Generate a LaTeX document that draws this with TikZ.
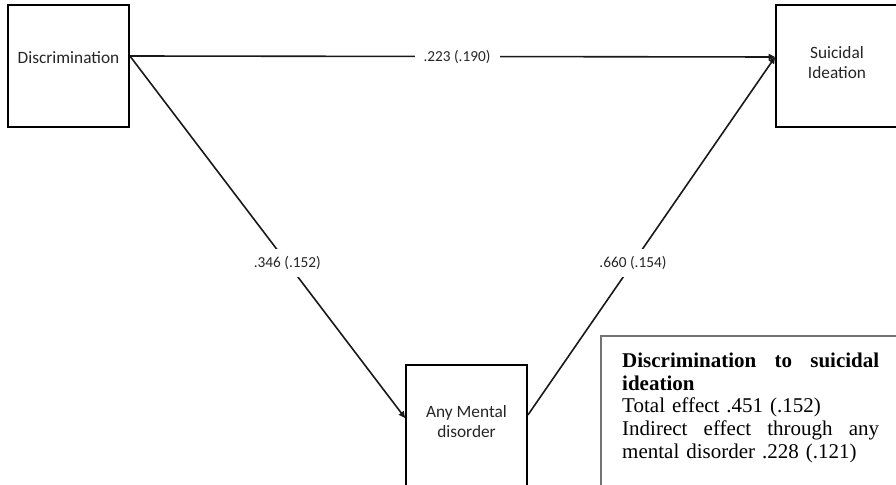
\documentclass[tikz,border=0pt]{standalone}
\usepackage{fontspec}
\setmainfont{Liberation Serif}
\newfontfamily\calfont{Carlito}
\usetikzlibrary{arrows.meta}
\begin{document}
\begin{tikzpicture}[x=1bp,y=-1bp,
  box/.style={draw=black, line width=1.8bp, minimum width=121bp, minimum height=122bp, inner sep=0pt},
  boxtext/.style={inner sep=0pt, align=center, text=black!85, font=\calfont\fontsize{17.3bp}{20bp}\selectfont},
  conn/.style={line width=1.6bp, draw=black!90, -{Triangle[length=6.5bp,width=6bp]}},
  lab/.style={fill=white, inner xsep=9bp, inner ysep=7bp, text=black!85, font=\calfont\fontsize{15.3bp}{18bp}\selectfont},
  summary/.style={anchor=north west, inner sep=0pt, text width=257bp, align=left, font=\fontsize{21bp}{22.8bp}\selectfont}]
\path[use as bounding box] (0,0) rectangle (896,485);
\clip (0,0) rectangle (896,485);
\fill[white] (0,0) rectangle (896,485);
% boxes
\node[box] (disc) at (68.5,66) {};
\node[boxtext] (disctext) at (68.5,57.5) {Discrimination};
\node[box] (sui) at (836.5,66) {};
\node[boxtext] (suitext) at (837,63) {Suicidal\\Ideation};
\node[box] (amd) at (466.5,426) {};
\node[boxtext] (amdtext) at (466.5,422) {Any Mental\\disorder};
% connectors
\draw[conn] ([yshift=10bp]disc.east) -- node[lab, pos=0.507] (l1) {.223 (.190)} ([yshift=9bp]sui.west);
\draw[conn] ([yshift=10bp]disc.east) -- node[lab, pos=0.572] (l2) {.346 (.152)} ([yshift=8bp]amd.west);
\draw[conn] ([yshift=11bp]amd.east) -- node[lab, pos=0.425] (l3) {.660 (.154)} ([yshift=9bp]sui.west);
% summary box
\draw[draw=black!55, line width=2bp] (601,336) rectangle (910,500);
\node[summary] (sum) at (622,352.5) {\textbf{Discrimination\hfill to\hfill suicidal}\\
\textbf{ideation}\\
Total effect .451 (.152)\\
Indirect\hfill effect\hfill through\hfill any\\
mental disorder .228 (.121)};
\end{tikzpicture}
\end{document}
